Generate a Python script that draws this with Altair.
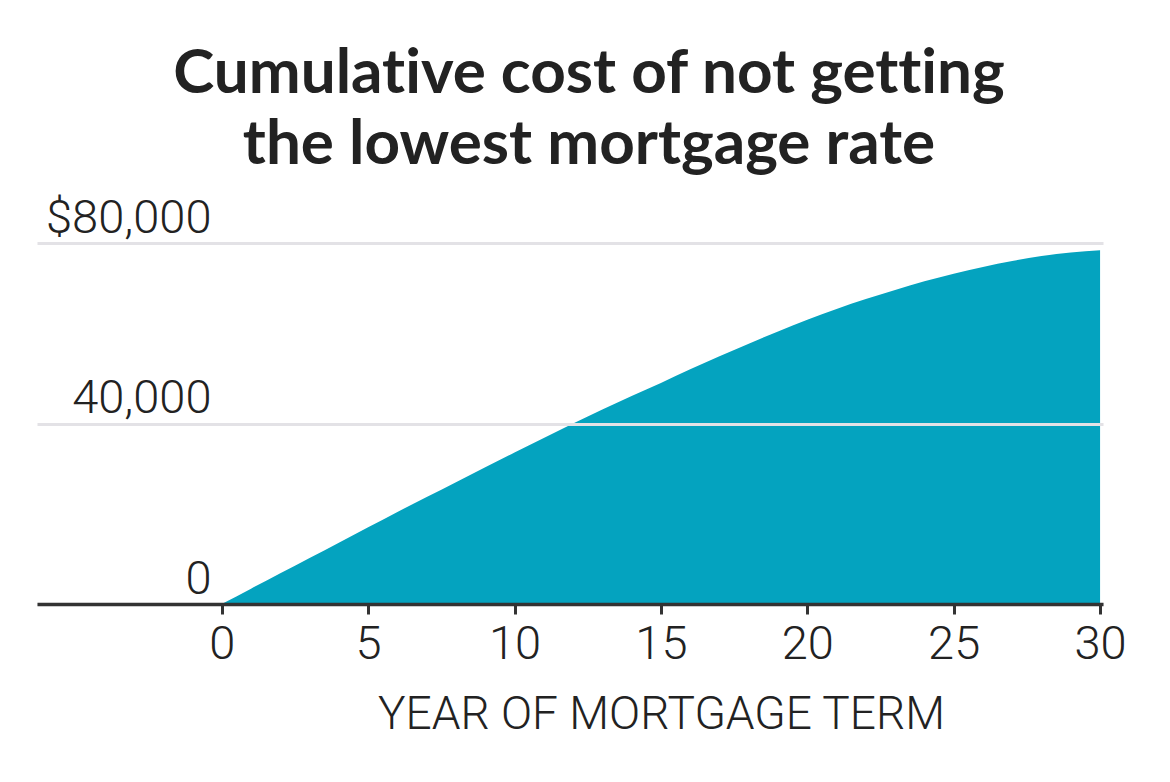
import altair as alt
import pandas as pd

# Cumulative extra cost (USD) by year of a 30-year mortgage
years = list(range(31))
cost = [0, 3400, 6800, 10200, 13600, 17000, 20400, 23700, 27000, 30300, 33600,
        36800, 40000, 43100, 46100, 49000, 52000, 54900, 57700, 60400, 63000,
        65400, 67600, 69600, 71500, 73200, 74700, 76000, 77100, 77900, 78400]

x_ticks = [0, 5, 10, 15, 20, 25, 30]
y_ticks = [0, 40000, 80000]

# zero-width non-joiners keep "ti" from turning into a ligature
title_lines = ["Cumulat\u200cive cost of not get\u200ct\u200cing", "the lowest mortgage rate"]
x_title = "YEAR OF MORTGAGE TERM"

df = pd.DataFrame({"year": years, "cost": cost})

LABEL_FONT = "Roboto"
LABEL_WEIGHT = 300
INK = "#222222"

chart = (
    alt.Chart(df)
    .mark_area(color="#04A3BF", interpolate="monotone")
    .encode(
        x=alt.X(
            "year:Q",
            scale=alt.Scale(domain=[-6.31, 30.1], nice=False, zero=False),
            axis=alt.Axis(
                values=x_ticks,
                title=x_title,
                grid=False,
                domain=True,
                domainColor="#333333",
                domainWidth=3.5,
                ticks=True,
                tickColor="#333333",
                tickWidth=3,
                tickSize=10,
                labelFont=LABEL_FONT,
                labelFontSize=47,
                labelFontWeight=LABEL_WEIGHT,
                labelColor=INK,
                labelPadding=44,
                labelBaseline="alphabetic",
                labelFlush=False,
                labelOverlap=False,
                titleFont=LABEL_FONT,
                titleFontSize=46,
                titleFontWeight=LABEL_WEIGHT,
                titleColor=INK,
                titleX=624,
                titleY=124,
                titleAlign="center",
                titleBaseline="alphabetic",
                zindex=2,
            ),
        ),
        y=alt.Y(
            "cost:Q",
            scale=alt.Scale(domain=[0, 80000], nice=False),
            axis=alt.Axis(
                values=y_ticks,
                title=None,
                grid=True,
                gridColor="#E3E2E6",
                gridWidth=3,
                domain=False,
                ticks=False,
                tickSize=0,
                labelPadding=-174,
                labelAlign="right",
                labelBaseline="alphabetic",
                labelOffset=-11,
                labelFont=LABEL_FONT,
                labelFontSize=47,
                labelFontWeight=LABEL_WEIGHT,
                labelColor=INK,
                labelExpr="datum.value == 80000 ? '$80,000' : format(datum.value, ',')",
                zindex=1,
            ),
        ),
    )
    .properties(
        width=1066,
        height=361,
        autosize="none",
        padding={"left": 37, "top": 243, "right": 67, "bottom": 178},
        background="white",
        title=alt.TitleParams(
            title_lines,
            font="Lato",
            fontSize=62,
            fontWeight="bold",
            color=INK,
            anchor="middle",
            lineHeight=71,
            offset=17,
            dx=19,
        ),
    )
    .configure_view(stroke=None)
)

chart.save("out.html", embed_options={"renderer": "svg", "actions": False})
